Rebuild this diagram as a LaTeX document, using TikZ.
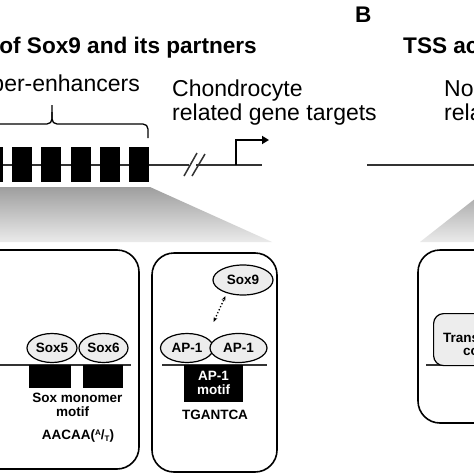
\documentclass[tikz,border=0pt]{standalone}
\usepackage{fontspec}
\setmainfont{Liberation Sans}
\usetikzlibrary{arrows.meta,shapes.geometric}
\begin{document}
\begin{tikzpicture}[x=1pt,y=-1pt,
  bigtxt/.style={font=\fontsize{23}{26}\selectfont, inner sep=0pt},
  bigbold/.style={font=\fontsize{22.6}{26}\selectfont\bfseries, inner sep=0pt},
  smalltxt/.style={font=\fontsize{13.5}{15}\selectfont\bfseries, inner sep=0pt},
  dna/.style={draw=black!80, line width=2pt},
  panel/.style={draw=black, line width=1.6pt, rounded corners=22pt},
  prot/.style={ellipse, draw=black, line width=1.2pt, fill=black!7, inner sep=0pt,
    font=\fontsize{13.5}{15}\selectfont\bfseries},
  motifbox/.style={fill=black},
  zoomshade/.style={top color=black!38, bottom color=black!8}]
\useasboundingbox (0,0) rectangle (474,474);
\fill[white] (0,0) rectangle (474,474);
\clip (0,0) rectangle (474,474);

% headings
\node[bigbold, anchor=base west] (B) at (355,22) {B};
\node[bigbold, anchor=base east] (t1) at (257,53) {of Sox9 and its partners};
\node[bigbold, anchor=base west] (t2) at (403,53) {TSS activity};
\node[bigtxt, anchor=base east] (se) at (140,91) {Super-enhancers};
\node[bigtxt, anchor=base west] (ch1) at (172,96) {Chondrocyte};
\node[bigtxt, anchor=base west] (ch2) at (172,120) {related gene targets};
\node[bigtxt, anchor=base west] (nc1) at (444,96) {Non-chondrocyte};
\node[bigtxt, anchor=base west] (nc2) at (444,120) {related gene targets};

% brace
\draw[line width=1.3pt, rounded corners=5pt] (-50,124) -| (52,105);
\draw[line width=1.3pt, rounded corners=5pt] (52,112) |- (148,124) -- (148,138);

% top DNA
\draw[dna] (-5,164.5) -- (189,164.5);
\draw[dna] (196,164.5) -- (262,164.5);
\draw[dna] (367,164.5) -- (480,164.5);
\draw[line width=1.5pt, black!80] (184,176) -- (197,153);
\draw[line width=1.5pt, black!80] (192,176) -- (205,154);
\foreach \i/\xa in {0/-17,1/12,2/41,3/71,4/100,5/129}
  \fill[black] (\xa,147) rectangle ++(20,35) coordinate (se\i);
% TSS arrow
\coordinate (tssb) at (236,165);
\coordinate (tsst) at (236,140);
\coordinate (tsse) at (269,140);
\draw[line width=2pt, -{Triangle[length=7pt,width=8pt]}] (tssb) -- (tsst) -- (tsse);

% zoom shading
\shade[zoomshade] (-10,187) -- (150,187) -- (272,242) -- (-10,242) -- cycle;
\shade[zoomshade] (490,187) -- (600,187) -- (600,242) -- (420,242) -- cycle;

% panel 1
\draw[panel] (-40,250) rectangle (139,469);
\draw[dna] (-5,365) -- (131,365);
\fill[motifbox] (29,365) rectangle (71,388);
\fill[motifbox] (83,365) rectangle (123,388);
\node[prot, minimum width=50pt, minimum height=29pt] (sox5) at (52,348) {Sox5};
\node[prot, minimum width=49pt, minimum height=29pt] (sox6) at (103.5,348) {Sox6};
\node[smalltxt, anchor=base] (sm1) at (77.5,402) {Sox monomer};
\node[smalltxt, anchor=base] (sm2) at (72.5,416) {motif};
\node[smalltxt, anchor=base] (sm3) at (78,439) {AACAA(\raisebox{3.5pt}{\fontsize{8}{9}\selectfont A}/\raisebox{-2pt}{\fontsize{8}{9}\selectfont T})};

% panel 2
\draw[panel] (152,253) rectangle (277,472);
\draw[dna] (162,365) -- (267,365);
\fill[motifbox] (184,365) rectangle (243,402);
\node[smalltxt, text=white, anchor=base] (ap1m) at (213.5,380) {AP-1};
\node[smalltxt, text=white, anchor=base] (ap1m2) at (213.5,394) {motif};
\node[smalltxt, anchor=base] (tga) at (215,419) {TGANTCA};
\node[prot, minimum width=53pt, minimum height=29pt] (ap1a) at (187,348) {AP-1};
\node[prot, minimum width=57pt, minimum height=29pt] (ap1b) at (238.5,348) {AP-1};
\node[prot, minimum width=60pt, minimum height=30pt] (sox9) at (243,280) {Sox9};
\draw[line width=1.3pt, dotted, {Stealth[length=5pt]}-{Stealth[length=5pt]}] (ap1b.north west) ++(-3,-3) coordinate (da) (213.5,322) -- (225.5,296);

% panel 3
\draw[panel] (418,250) rectangle (600,423);
\draw[dna] (426,365) -- (480,365);
\node[draw=black, line width=1.2pt, fill=black!7, rounded corners=10pt, minimum width=150pt, minimum height=52pt, anchor=north west, inner sep=0pt] (tc) at (433,313) {};
\node[smalltxt, anchor=base west] (tc1) at (443,342) {Transcription};
\node[smalltxt, anchor=base west] (tc2) at (463,355) {complex};
\end{tikzpicture}
\end{document}
